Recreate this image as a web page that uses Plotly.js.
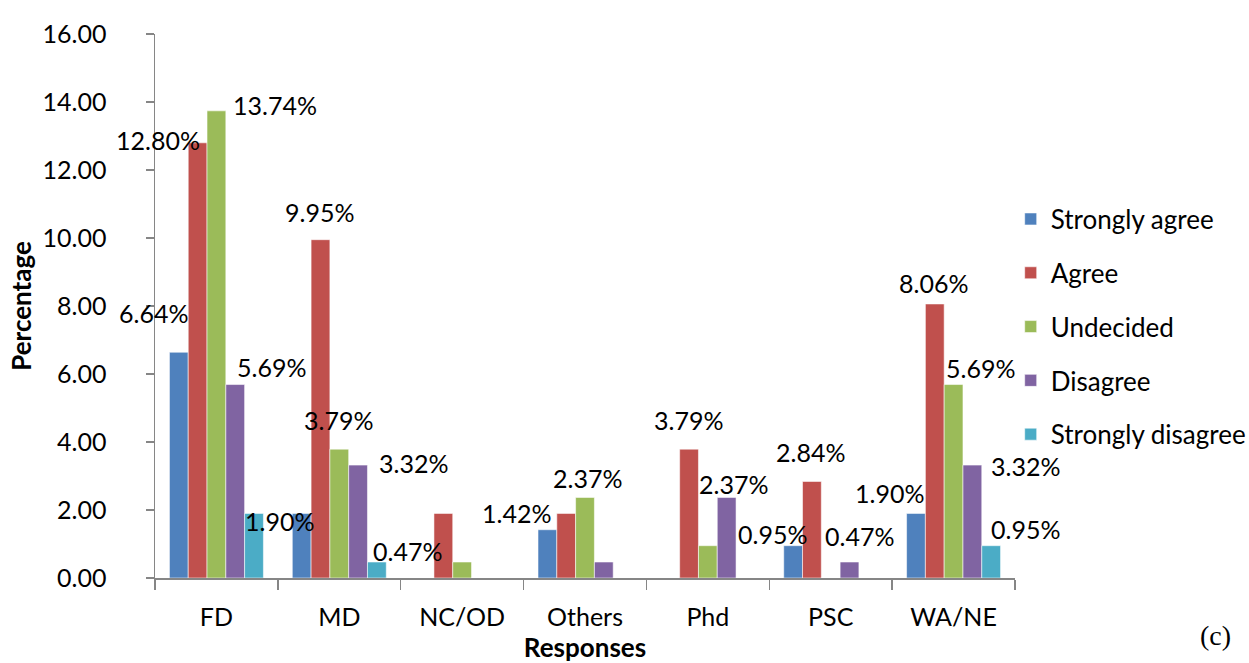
<!DOCTYPE html>
<html>
<head>
<meta charset="utf-8">
<script src="https://cdn.plot.ly/plotly-3.0.1.min.js"></script>
<style>html,body{margin:0;padding:0;background:#fff;}#chart{width:1249px;height:663px;}</style>
</head>
<body>
<div id="chart"></div>
<script>
// ---- data ----
const categories = ["FD", "MD", "NC/OD", "Others", "Phd", "PSC", "WA/NE"];
const seriesNames = ["Strongly agree", "Agree", "Undecided", "Disagree", "Strongly disagree"];
const stronglyAgree    = [6.64, 1.90, 0.00, 1.42, 0.00, 0.95, 1.90];
const agree            = [12.80, 9.95, 1.90, 1.90, 3.79, 2.84, 8.06];
const undecided        = [13.74, 3.79, 0.47, 2.37, 0.95, 0.00, 5.69];
const disagree         = [5.69, 3.32, 0.00, 0.47, 2.37, 0.47, 3.32];
const stronglyDisagree = [1.90, 0.47, 0.00, 0.00, 0.00, 0.00, 0.95];
const yTickValues = [0, 2, 4, 6, 8, 10, 12, 14, 16];
// data labels shown in the figure: [series index, category index]
const labelledBars = [
  [0,0],[1,0],[2,0],[3,0],[4,0],
  [1,1],[2,1],[3,1],[4,1],
  [0,3],[2,3],
  [1,4],[3,4],
  [0,5],[1,5],[3,5],
  [0,6],[1,6],[2,6],[3,6],[4,6]
];

// ---- styling / placement ----
const colors = ["#4F81BD", "#C0504D", "#9BBB59", "#8064A2", "#4BACC6"];
const allSeries = [stronglyAgree, agree, undecided, disagree, stronglyDisagree];
const bargap = 0.235;
const FONT = "Lato, 'Open Sans', sans-serif";
// pixel offsets of each data label relative to its bar top (dx right, dy up)
const labelOffsets = [
  [-25,39],[-40,3],[59,6],[36,18],[25,-8],
  [-1,28],[-1,29],[55,2],[31,11],
  [-31,17],[2,19],
  [-1,29],[7,13],
  [-21,12],[-1,29],[10,26],
  [-26,20],[-1,21],[27,17],[53,-1],[34,17]
];

const traces = allSeries.map((vals, k) => ({
  type: "bar",
  name: seriesNames[k],
  x: categories,
  y: vals,
  legendgroup: "g" + k,
  marker: {color: colors[k], line: {color: "rgba(255,255,255,0.55)", width: 1}},
  hoverinfo: "x+y+name"
}));

const nS = seriesNames.length;
const barUnit = (1 - bargap) / nS;
const annotations = labelledBars.map(([k, i], j) => ({
  xref: "x", yref: "y",
  x: i + (k - (nS - 1) / 2) * barUnit,
  y: allSeries[k][i],
  text: allSeries[k][i].toFixed(2) + "%",
  showarrow: false,
  xanchor: "center", yanchor: "middle",
  xshift: labelOffsets[j][0], yshift: labelOffsets[j][1],
  font: {family: FONT, size: 25, color: "#000"}
}));
annotations.push({
  xref: "paper", yref: "paper", x: 1.233, y: -0.105,
  xanchor: "center", yanchor: "middle", showarrow: false,
  text: "(c)", font: {family: "'Liberation Serif', 'DejaVu Serif', serif", size: 28, color: "#000"}
});

const layout = {
  width: 1249, height: 663,
  margin: {l: 155, r: 234, t: 34, b: 85, autoexpand: false},
  paper_bgcolor: "#fff", plot_bgcolor: "#fff",
  barmode: "group", bargap: bargap, bargroupgap: 0,
  font: {family: FONT, size: 24, color: "#000"},
  showlegend: true,
  legend: {
    x: 0.995, xanchor: "left", y: 0.703, yanchor: "top",
    font: {family: FONT, size: 26, color: "#000"},
    tracegroupgap: 17, itemwidth: 30, bgcolor: "rgba(0,0,0,0)"
  },
  xaxis: {
    type: "category", range: [-0.5, categories.length - 0.5],
    showgrid: false, zeroline: false,
    showline: true, linecolor: "#868686", linewidth: 1.5,
    ticks: "outside", ticklen: 10, tickcolor: "#868686", tickwidth: 1.5,
    tickson: "boundaries", ticklabelstandoff: 16,
    tickfont: {family: FONT, size: 25, color: "#000"},
    title: {text: "<b>Responses</b>", font: {family: FONT, size: 26, color: "#000"}, standoff: 10},
    automargin: false, fixedrange: true
  },
  yaxis: {
    range: [0, 16], tickvals: yTickValues, tickformat: ".2f",
    showgrid: false, zeroline: false,
    showline: true, linecolor: "#868686", linewidth: 1.5,
    ticks: "outside", ticklen: 8, tickcolor: "#868686", tickwidth: 1.5,
    ticklabelstandoff: 34,
    tickfont: {family: FONT, size: 25, color: "#000"},
    title: {text: "<b>Percentage</b>", font: {family: FONT, size: 26, color: "#000"}, standoff: 3},
    automargin: false, fixedrange: true
  },
  annotations: annotations
};

Plotly.newPlot("chart", traces, layout, {displayModeBar: false, staticPlot: true});
</script>
</body>
</html>
